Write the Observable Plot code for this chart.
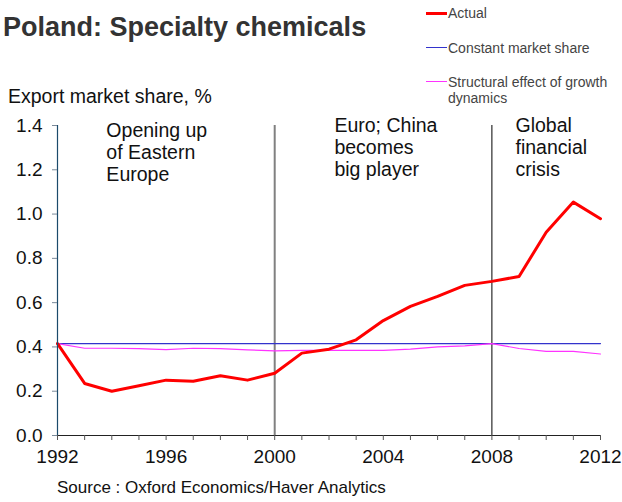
<!DOCTYPE html>
<html>
<head>
<meta charset="utf-8">
<script src="https://cdn.jsdelivr.net/npm/d3@7"></script>
<script src="https://cdn.jsdelivr.net/npm/@observablehq/plot@0.6"></script>
<style>
  body { margin: 0; background: #fff; font-family: "Liberation Sans", Arial, sans-serif; }
  #wrap { position: relative; width: 622px; height: 502px; overflow: hidden; }
  #wrap svg { position: absolute; left: 0; top: 0; }
  .abs { position: absolute; white-space: nowrap; }
  #title { left: 3px; top: 12px; font-size: 27px; font-weight: bold; color: #333; }
  #ylab { left: 8px; top: 85px; font-size: 19.5px; color: #111; }
  #source { left: 57px; top: 478px; font-size: 17px; color: #111; }
  .leg { font-size: 14px; color: #444; line-height: 16px; }
  .legline { position: absolute; }
</style>
</head>
<body>
<div id="wrap"></div>
<script>
const years = d3.range(1992, 2013);
const actual = [0.415, 0.235, 0.200, 0.225, 0.250, 0.245, 0.270, 0.250, 0.281, 0.372, 0.390, 0.432, 0.519, 0.583, 0.628, 0.678, 0.696, 0.718, 0.918, 1.054, 0.979];
const constantShare = [0.415, 0.415, 0.415, 0.415, 0.415, 0.415, 0.415, 0.415, 0.415, 0.415, 0.415, 0.415, 0.415, 0.415, 0.415, 0.415, 0.415, 0.415, 0.415, 0.415, 0.415];
const structural = [0.415, 0.394, 0.394, 0.392, 0.388, 0.394, 0.392, 0.387, 0.382, 0.384, 0.384, 0.384, 0.384, 0.390, 0.400, 0.405, 0.415, 0.393, 0.380, 0.380, 0.368];
const seriesNames = ["Actual", "Constant market share", "Structural effect of growth dynamics"];
const seriesColors = ["#ff0000", "#3333cc", "#ff33ff"];
const yTicks = [0, 0.2, 0.4, 0.6, 0.8, 1.0, 1.2, 1.4];
const xTicks = d3.range(1992, 2013);
const xLabelYears = [1992, 1996, 2000, 2004, 2008, 2012];
const eventYears = [2000, 2008];
const annotations = [
  {x: 1993.8, text: "Opening up\nof Eastern\nEurope"},
  {x: 2002.2, text: "Euro; China\nbecomes\nbig player"},
  {x: 2008.87, text: "Global\nfinancial\ncrisis"}
];
const sourceText = "Source : Oxford Economics/Haver Analytics";

const rows = (vals) => years.map((y, i) => ({year: y, v: vals[i]}));
const annStyle = {x: "x", y: 1.4, text: "text", textAnchor: "start", lineAnchor: "top", lineHeight: 1.13, fontSize: 19.5, fill: "#111"};

const chart = Plot.plot({
  width: 622,
  height: 502,
  marginLeft: 57,
  marginRight: 22,
  marginTop: 125,
  marginBottom: 67,
  style: {fontFamily: "Liberation Sans, Arial, sans-serif", fontSize: "19px", color: "#111", background: "transparent"},
  x: {domain: [1992, 2012]},
  y: {domain: [0, 1.4]},
  marks: [
    Plot.ruleX([eventYears[0]], {stroke: "#808080", strokeWidth: 2}),
    Plot.ruleX([eventYears[1]], {stroke: "#000", strokeWidth: 1}),
    Plot.line(rows(constantShare), {x: "year", y: "v", stroke: seriesColors[1], strokeWidth: 1.2}),
    Plot.line(rows(structural), {x: "year", y: "v", stroke: seriesColors[2], strokeWidth: 1.2}),
    Plot.line(rows(actual), {x: "year", y: "v", stroke: seriesColors[0], strokeWidth: 3}),
    Plot.ruleY([0], {stroke: "#222", strokeWidth: 1}),
    Plot.ruleX([1992], {stroke: "#1b4a6b", strokeWidth: 1.2}),
    Plot.axisX({ticks: xTicks, tickFormat: d => xLabelYears.includes(d) ? String(d) : "", tickSize: 5, tickPadding: 9, stroke: "#555", label: null, fontSize: 19}),
    Plot.axisY({ticks: yTicks, tickFormat: d3.format(".1f"), tickSize: 5, tickPadding: 10, stroke: "#7a8a9a", label: null, fontSize: 19}),
    Plot.text(annotations.slice(0, 1), {...annStyle, dy: -4}),
    Plot.text(annotations.slice(1), {...annStyle, dy: -9})
  ]
});

const wrap = document.getElementById("wrap");
wrap.appendChild(chart);

function addDiv(id, cls, text, style) {
  const d = document.createElement("div");
  if (id) d.id = id;
  d.className = "abs " + (cls || "");
  d.textContent = text;
  if (style) Object.assign(d.style, style);
  wrap.appendChild(d);
  return d;
}
addDiv("title", "", "Poland: Specialty chemicals");
addDiv("ylab", "", "Export market share, %");
addDiv("source", "", sourceText);

// legend
const legY = [13, 47.5, 81.5];
const legW = [3, 1.2, 1.2];
seriesNames.forEach((name, i) => {
  const l = document.createElement("div");
  l.className = "legline";
  Object.assign(l.style, {left: "426px", width: "21px", top: (legY[i] - legW[i] / 2) + "px", height: legW[i] + "px", background: seriesColors[i]});
  wrap.appendChild(l);
  addDiv(null, "leg", name, {left: "448px", top: (legY[i] - 8) + "px", whiteSpace: "normal", width: "172px"});
});
</script>
</body>
</html>
